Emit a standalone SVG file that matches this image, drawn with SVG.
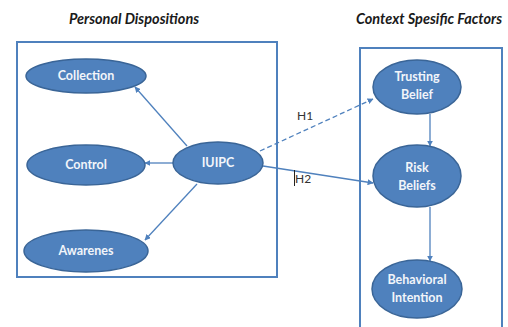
<svg xmlns="http://www.w3.org/2000/svg" width="508" height="327" viewBox="0 0 508 327">
<defs>
<style>
.title{font-family:Lato,"Liberation Sans",sans-serif;font-weight:bold;font-style:italic;font-size:14.5px;fill:#1a1a1a;text-anchor:middle}
.box{fill:none;stroke:#4f81bd;stroke-width:2}
.node ellipse{fill:#4f81bd;stroke:#3a6597;stroke-width:1.5}
.node text{font-family:Lato,"Liberation Sans",sans-serif;font-weight:bold;font-size:12.5px;fill:#f2f5fa;text-anchor:middle}
.edge{stroke:#4f81bd;stroke-width:1.3;fill:none;marker-end:url(#arr)}
.lbl{font-family:Lato,"Liberation Sans",sans-serif;font-size:12px;fill:#333333}
</style>
<marker id="arr" viewBox="0 0 10 10" refX="9" refY="5" markerWidth="6" markerHeight="6" orient="auto" markerUnits="userSpaceOnUse">
<path d="M0,0 L10,5 L0,10 z" fill="#4f81bd"/>
</marker>
</defs>
<rect width="508" height="327" fill="#ffffff"/>
<text class="title" x="134" y="24">Personal Dispositions</text>
<text class="title" x="429" y="24">Context Spesific Factors</text>
<rect class="box" x="17" y="42" width="260" height="235"/>
<rect class="box" x="360" y="48" width="142" height="290"/>
<g id="connectors">
<line class="edge" x1="187" y1="146" x2="135" y2="87"/>
<line class="edge" x1="173" y1="163" x2="145" y2="163"/>
<line class="edge" x1="197" y1="184" x2="145" y2="240"/>
<line class="edge" x1="260" y1="151" x2="373" y2="99" stroke-dasharray="5,3" stroke-width="2"/>
<line class="edge" x1="263" y1="166" x2="373" y2="183"/>
<line class="edge" x1="430" y1="114" x2="430" y2="146"/>
<line class="edge" x1="430" y1="207" x2="430" y2="261"/>
<text class="lbl" x="297" y="120">H1</text>
<text class="lbl" x="295" y="183">H2</text>
<line x1="294.5" y1="170" x2="294.5" y2="186" stroke="#222" stroke-width="1"/>
</g>
<g id="collection" class="node"><ellipse cx="86" cy="76" rx="60" ry="17"/><text x="86" y="80">Collection</text></g>
<g id="control" class="node"><ellipse cx="86" cy="165" rx="59" ry="20"/><text x="86" y="169">Control</text></g>
<g id="awarenes" class="node"><ellipse cx="86" cy="251" rx="62" ry="21"/><text x="86" y="255">Awarenes</text></g>
<g id="iuipc" class="node"><ellipse cx="218" cy="163" rx="45" ry="21"/><text x="218" y="167">IUIPC</text></g>
<g id="trusting" class="node"><ellipse cx="417" cy="87" rx="44" ry="27"/><text x="417" y="81">Trusting</text><text x="417" y="99">Belief</text></g>
<g id="risk" class="node"><ellipse cx="417" cy="176" rx="44" ry="31"/><text x="417" y="172">Risk</text><text x="417" y="190">Beliefs</text></g>
<g id="behavioral" class="node"><ellipse cx="417" cy="289" rx="45" ry="29"/><text x="417" y="284">Behavioral</text><text x="417" y="302">Intention</text></g>
</svg>
